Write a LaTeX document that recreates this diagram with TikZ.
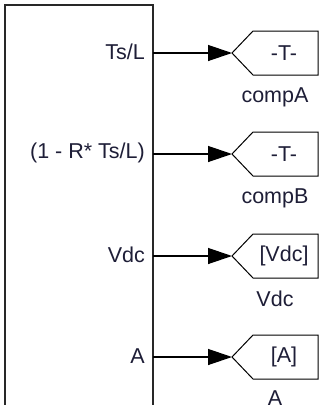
\documentclass[tikz,border=0pt]{standalone}
\usepackage{fontspec}
\setmainfont{Liberation Sans}
\usetikzlibrary{arrows.meta}
\definecolor{txt}{RGB}{30,30,55}
\definecolor{boxline}{RGB}{40,40,40}
\tikzset{
  lbl/.style={font=\fontsize{21.5}{23}\selectfont, text=txt, inner sep=0pt},
  portlbl/.style={lbl, anchor=east},
  gotoshape/.style={draw=black, line width=1pt, line join=miter},
  sig/.style={draw=black, line width=1.3pt, -{Triangle[length=24pt,width=16pt]}},
}
\begin{document}
\begin{tikzpicture}[x=1pt,y=-1pt]
\useasboundingbox (0,0) rectangle (320,405);
\clip (0,0) rectangle (320,405);
\fill[white] (0,0) rectangle (320,405);
% main subsystem block
\draw[boxline, line width=2pt] (5,420) -- (5,5) -- (153,5) -- (153,420);
\foreach \n/\y/\t/\g/\lab/\dy in {a/53/Ts\slash L/-T-/compA/44, b/154/(1 - R* Ts\slash L)/-T-/compB/44, c/256/Vdc/[Vdc]/Vdc/43, d/357/A/[A]/A/41}{
  \coordinate (p\n) at (153,\y);
  \node[portlbl] (l\n) at (145,\y-1) {\t};
  \coordinate (g\n in) at (232,\y);
  \draw[gotoshape] (232,\y) -- (253,\y-22) -- (318,\y-22) -- (318,\y+22) -- (253,\y+22) -- cycle;
  \node[lbl] (g\n) at (284,\y) {\g};
  \node[lbl] (t\n) at (275,\y+\dy) {\lab};
  \draw[sig] (p\n) -- (g\n in);
}
\end{tikzpicture}
\end{document}
